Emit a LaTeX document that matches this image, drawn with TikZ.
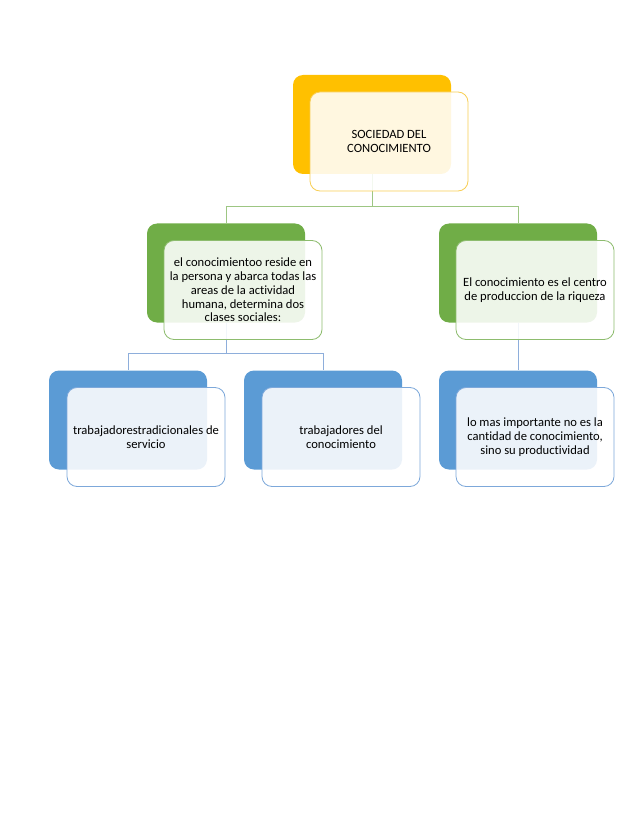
\documentclass[tikz,border=0pt]{standalone}
\usepackage{fontspec}
\setmainfont{Carlito}[Ligatures=NoCommon]
\definecolor{topfill}{RGB}{255,192,0}
\definecolor{topline}{RGB}{248,206,84}
\definecolor{midfill}{RGB}{112,173,71}
\definecolor{midline}{RGB}{141,188,110}
\definecolor{lowfill}{RGB}{91,155,213}
\definecolor{lowline}{RGB}{125,168,218}
\definecolor{midconn}{RGB}{157,198,131}
\definecolor{lowconn}{RGB}{142,174,219}
\usetikzlibrary{calc, positioning, backgrounds}

\begin{document}
\begin{tikzpicture}[
  x=1pt, y=-1pt,
  font=\fontsize{12.6}{13.8}\selectfont,
  backbox/.style={rounded corners=10pt, minimum width=158pt, minimum height=99pt,
                  inner sep=0pt},
  frontbox/.style={draw, rounded corners=10pt, fill=white, fill opacity=0.88,
                   text opacity=1, minimum width=158pt, minimum height=99pt,
                   inner sep=0pt, align=center, line width=0.8pt},
  conn/.style={line width=0.9pt},
]
\useasboundingbox (0,0) rectangle (638,826);

% --- Back boxes ---
\node[backbox, fill=topfill] (soc) at (372,124.5) {};
\node[backbox, fill=midfill] (pers) at (226,273) {};
\node[backbox, fill=midfill] (prod) at (518,273) {};
\node[backbox, fill=lowfill] (trad) at (128,420) {};
\node[backbox, fill=lowfill] (cono) at (323,420) {};
\node[backbox, fill=lowfill] (impo) at (518,420) {};

% --- Connectors (behind the boxes) ---
\begin{scope}[on background layer]
\draw[conn, midconn] (soc.south) -- ++(0,32) -| (pers.north);
\draw[conn, midconn] (soc.south) -- ++(0,32) -| (prod.north);
\draw[conn, lowconn] (pers.south) -- ++(0,31) -| (trad.north);
\draw[conn, lowconn] (pers.south) -- ++(0,31) -| (cono.north);
\draw[conn, lowconn] (prod.south) -- (impo.north);
\end{scope}

% --- Front boxes with the texts ---
\node[frontbox, draw=topline] (socf) at ($(soc)+(17,17)$)
  {SOCIEDAD DEL\\CONOCIMIENTO};
\node[frontbox, draw=midline] (persf) at ($(pers)+(17,17)$)
  {el conocimientoo reside en\\la persona y abarca todas las\\areas de la actividad\\humana, determina dos\\clases sociales:};
\node[frontbox, draw=midline] (prodf) at ($(prod)+(17,17)$)
  {El conocimiento es el centro\\de produccion de la riqueza};
\node[frontbox, draw=lowline] (tradf) at ($(trad)+(18,17)$)
  {trabajadorestradicionales de\\servicio};
\node[frontbox, draw=lowline] (conof) at ($(cono)+(18,17)$)
  {trabajadores del\\conocimiento};
\node[frontbox, draw=lowline] (impof) at ($(impo)+(17,17)$)
  {lo mas importante no es la\\cantidad de conocimiento,\\sino su productividad};

\end{tikzpicture}
\end{document}
